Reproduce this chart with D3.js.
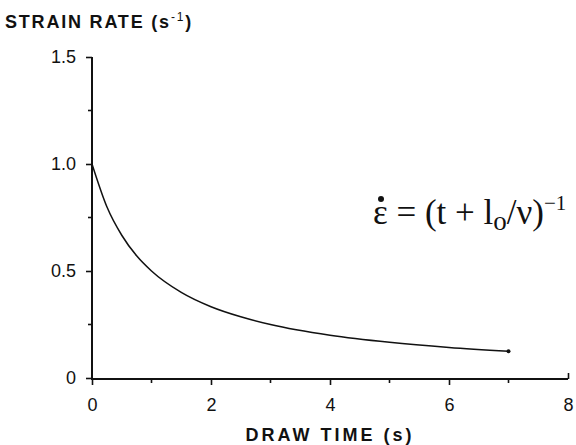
<!DOCTYPE html>
<html>
<head>
<meta charset="utf-8">
<script src="https://cdn.jsdelivr.net/npm/d3@7"></script>
<style>
  html, body { margin: 0; padding: 0; background: #fff; }
  svg { display: block; }
</style>
</head>
<body>
<svg id="chart" width="576" height="445"></svg>
<script>
// Draw time (s) and strain rate (1/s) along the curve
const drawTime   = [0, 0.25, 0.5, 0.75, 1, 1.5, 2, 2.5, 3, 4, 5, 6, 7];
const strainRate = [1.0, 0.80, 0.667, 0.571, 0.50, 0.40, 0.333, 0.286, 0.25, 0.20, 0.167, 0.143, 0.125];

const xMajorTicks = [0, 2, 4, 6, 8];
const xMinorTicks = [1, 3, 5, 7];
const yMajorTicks = [0, 0.5, 1.0, 1.5];
const yMinorTicks = [0.25, 0.75, 1.25];
const yTickLabels = ["0", "0.5", "1.0", "1.5"];

const svg = d3.select("#chart");
const sans = "Liberation Sans, Arial, Helvetica, sans-serif";
const serif = "Liberation Serif, Times New Roman, serif";

const x = d3.scaleLinear().domain([0, 8]).range([92, 568]);
const y = d3.scaleLinear().domain([0, 1.5]).range([378, 57]);

const ink = "#111";

// x axis
const xAxis = svg.append("g").attr("transform", `translate(0,${y(0) + 1})`);
xAxis.call(d3.axisBottom(x).tickValues(xMajorTicks).tickSize(6).tickFormat(d3.format("d")));
xAxis.attr("font-size", 18).attr("font-family", sans);
xAxis.select(".domain").attr("d", `M${x(0)},0H${x(8)}`).attr("stroke", ink).attr("stroke-width", 2);
xAxis.selectAll(".tick line").attr("stroke", ink).attr("stroke-width", 1.6)
  .attr("y2", d => d === 8 ? -6 : 6);
xAxis.selectAll(".tick text").attr("fill", ink).attr("y", 19);
xAxis.selectAll(".minor").data(xMinorTicks).enter().append("line")
  .attr("x1", d => x(d)).attr("x2", d => x(d)).attr("y1", 0).attr("y2", 4)
  .attr("stroke", ink).attr("stroke-width", 1.6);

// y axis
const yAxis = svg.append("g").attr("transform", `translate(${x(0)},0)`);
yAxis.call(d3.axisLeft(y).tickValues(yMajorTicks).tickSize(6)
  .tickFormat((d, i) => yTickLabels[i]));
yAxis.attr("font-size", 18).attr("font-family", sans);
yAxis.select(".domain").attr("d", `M0,${y(1.5)}V${y(0) + 2}`).attr("stroke", ink).attr("stroke-width", 2);
yAxis.selectAll(".tick line").attr("stroke", ink).attr("stroke-width", 1.6);
yAxis.selectAll(".tick text").attr("fill", ink).attr("x", -16);
yAxis.selectAll(".minor").data(yMinorTicks).enter().append("line")
  .attr("x1", -4).attr("x2", 0).attr("y1", d => y(d)).attr("y2", d => y(d))
  .attr("stroke", ink).attr("stroke-width", 1.6);

// strain-rate curve
const pts = drawTime.map((t, i) => [t, strainRate[i]]);
const line = d3.line().x(d => x(d[0])).y(d => y(d[1])).curve(d3.curveMonotoneX);
svg.append("path").datum(pts).attr("d", line)
  .attr("fill", "none").attr("stroke", ink).attr("stroke-width", 1.5);
const last = pts[pts.length - 1];
svg.append("circle").attr("cx", x(last[0])).attr("cy", y(last[1])).attr("r", 2).attr("fill", ink);

// axis titles
const yTitle = svg.append("text").attr("x", 5).attr("y", 28)
  .attr("font-family", sans).attr("font-size", 18).attr("font-weight", "bold")
  .attr("letter-spacing", 1.8).attr("fill", ink);
yTitle.append("tspan").text("STRAIN RATE (s");
yTitle.append("tspan").attr("font-size", 12).attr("dy", -7).attr("font-weight", "normal").text("-1");
yTitle.append("tspan").attr("dy", 7).text(")");

svg.append("text").attr("x", 330).attr("y", 441).attr("text-anchor", "middle")
  .attr("font-family", sans).attr("font-size", 18).attr("font-weight", "bold")
  .attr("letter-spacing", 3).attr("fill", ink).text("DRAW TIME (s)");

// rate equation
const eq = svg.append("text").attr("x", 373).attr("y", 224)
  .attr("font-family", serif).attr("font-size", 35).attr("fill", ink);
eq.append("tspan").text("ε = (t + l");
eq.append("tspan").attr("font-size", 27).attr("dy", 6).text("o");
eq.append("tspan").attr("dy", -6).text("/ν)");
eq.append("tspan").attr("font-size", 21).attr("dy", -14).text("−1");
svg.append("circle").attr("cx", 381).attr("cy", 199).attr("r", 3).attr("fill", ink);
</script>
</body>
</html>
